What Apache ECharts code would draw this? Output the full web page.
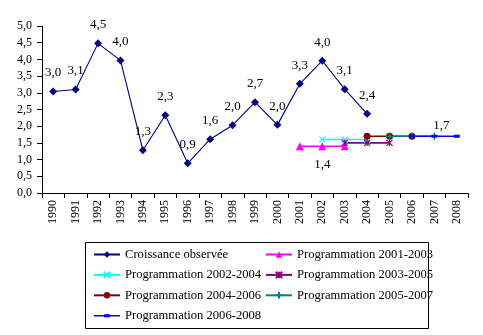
<!DOCTYPE html>
<html>
<head>
<meta charset="utf-8">
<script src="https://cdn.jsdelivr.net/npm/echarts@6/dist/echarts.min.js"></script>
<style>
  html, body { margin: 0; padding: 0; background: #fff; }
  #chart { width: 483px; height: 335px; }
</style>
</head>
<body>
<div id="chart"></div>
<script>
// Years on the horizontal axis
var years = ['1990','1991','1992','1993','1994','1995','1996','1997','1998','1999',
             '2000','2001','2002','2003','2004','2005','2006','2007','2008'];

// Observed growth (%)
var observed = [3.04, 3.1, 4.48, 3.97, 1.28, 2.33, 0.89, 1.61, 2.03, 2.72, 2.04, 3.27, 3.96, 3.11, 2.37];

// Programmed growth for each three-year plan: [first year, values]
var prog2001 = { start: '2001', values: [1.4, 1.4, 1.4] };
var prog2002 = { start: '2002', values: [1.6, 1.6, 1.6] };
var prog2003 = { start: '2003', values: [1.5, 1.5, 1.5] };
var prog2004 = { start: '2004', values: [1.7, 1.7, 1.7] };
var prog2005 = { start: '2005', values: [1.7, 1.7, 1.7] };
var prog2006 = { start: '2006', values: [1.7, 1.7, 1.7] };

// Y axis ticks
var yMin = 0, yMax = 5, yStep = 0.5;

function comma(v) { return v.toFixed(1).replace('.', ','); }

// Place a plan's values on the full year axis
function spread(p) {
  var out = years.map(function () { return null; });
  var i0 = years.indexOf(p.start);
  p.values.forEach(function (v, k) { out[i0 + k] = v; });
  return out;
}

var FONT = '"Liberation Serif", "DejaVu Serif", serif';

var labelStyle = { color: '#000', fontFamily: FONT, fontSize: 13 };

var chart = echarts.init(document.getElementById('chart'), null, { renderer: 'canvas' });

var observedData = observed.map(function (v) {
  return { value: v, label: { show: true, position: 'top', distance: 8, formatter: function (p) { return comma(p.value); } } };
});

function labelAt(arr, year, pos, opts) {
  var i = years.indexOf(year);
  arr[i] = Object.assign({ value: arr[i], label: Object.assign({ show: true, position: pos, formatter: function (p) { return comma(p.value); } }, opts || {}) });
  return arr;
}

var d2001 = labelAt(spread(prog2001), '2002', 'bottom', { distance: 8 });
var d2006 = labelAt(spread(prog2006), '2007', 'top', { distance: 3, offset: [7, 0] });

var crossPath = 'path://M0,0L10,10M10,0L0,10';
var starPath = 'path://M0,0L10,10M10,0L0,10M5,0L5,10';
var plusPath = 'path://M5,0L5,10M0,5L10,5';
// legend icon for the last plan: a line with a small dash marker
var dashLegendIcon = 'path://M0,3.3L26,3.3L26,4.7L0,4.7Z M10,2.5L16,2.5L16,5.5L10,5.5Z M0,0L0.01,0L0.01,8L0,8Z';

function progSeries(name, color, data, symbol, size, extra) {
  return Object.assign({
    name: name,
    type: 'line',
    data: data,
    symbol: symbol,
    symbolSize: size,
    showAllSymbol: true,
    connectNulls: false,
    animation: false,
    color: color,
    lineStyle: { color: color, width: 1.6 },
    itemStyle: { color: color },
    label: labelStyle
  }, extra || {});
}

var legendCommon = {
  top: 242, orient: 'vertical', itemWidth: 26, itemHeight: 8, itemGap: 5.4,
  textStyle: { color: '#000', fontFamily: FONT, fontSize: 12.6, lineHeight: 15 }
};

var option = {
  animation: false,
  textStyle: { fontFamily: FONT },
  grid: { left: 42, right: 15, top: 26, bottom: 142, containLabel: false },
  xAxis: {
    type: 'category',
    data: years,
    boundaryGap: true,
    axisLine: { lineStyle: { color: '#000', width: 1 } },
    axisTick: { show: true, length: 5, inside: false, lineStyle: { color: '#000' } },
    axisLabel: { rotate: 90, margin: 7, color: '#000', fontFamily: FONT, fontSize: 12, interval: 0 },
    splitLine: { show: false }
  },
  yAxis: {
    type: 'value',
    min: yMin, max: yMax, interval: yStep,
    axisLine: { show: true, lineStyle: { color: '#000', width: 1 } },
    axisTick: { show: true, length: 5, lineStyle: { color: '#000' } },
    axisLabel: { margin: 10, color: '#000', fontFamily: FONT, fontSize: 12, formatter: function (v) { return comma(v); } },
    splitLine: { show: false }
  },
  legend: [
    Object.assign({ left: 88,
      data: ['Croissance observée', 'Programmation 2002-2004', 'Programmation 2004-2006',
             { name: 'Programmation 2006-2008', icon: dashLegendIcon }] }, legendCommon),
    Object.assign({ left: 260,
      data: ['Programmation 2001-2003', 'Programmation 2003-2005', 'Programmation 2005-2007'] }, legendCommon)
  ],
  graphic: [
    { type: 'rect', left: 83, top: 240, shape: { width: 343, height: 86 },
      style: { fill: 'none', stroke: '#000', lineWidth: 1 }, silent: true, z: -1 }
  ],
  series: [
    {
      name: 'Croissance observée',
      type: 'line',
      data: observedData,
      symbol: 'diamond',
      symbolSize: 8,
      color: '#000080',
      lineStyle: { color: '#000080', width: 1.1 },
      itemStyle: { color: '#000080' },
      label: labelStyle,
      z: 3
    },
    progSeries('Programmation 2001-2003', '#FF00FF', d2001, 'triangle', 8),
    progSeries('Programmation 2002-2004', '#00FFFF', spread(prog2002), crossPath, 6,
      { itemStyle: { color: 'none', borderColor: '#00FFFF', borderWidth: 1.2 } }),
    progSeries('Programmation 2003-2005', '#800080', spread(prog2003), starPath, 6,
      { itemStyle: { color: 'none', borderColor: '#800080', borderWidth: 1.2 } }),
    progSeries('Programmation 2004-2006', '#800000', spread(prog2004), 'circle', 7),
    progSeries('Programmation 2005-2007', '#008080', spread(prog2005), plusPath, 7,
      { itemStyle: { color: 'none', borderColor: '#008080', borderWidth: 1.5 } }),
    progSeries('Programmation 2006-2008', '#0000FF', d2006, 'rect', [6, 3])
  ]
};

chart.setOption(option);
</script>
</body>
</html>
